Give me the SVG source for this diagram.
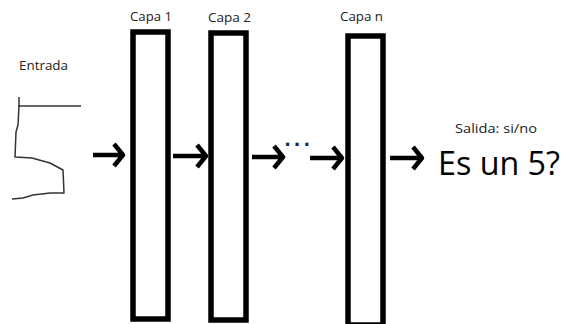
<svg xmlns="http://www.w3.org/2000/svg" width="572" height="324" viewBox="0 0 572 324">
<style>
.lbl{font-family:"Open Sans","Liberation Sans",sans-serif;font-size:13.5px;fill:#222}
.layer{fill:none;stroke:#000;stroke-width:5.5}
.arr{fill:none;stroke:#000;stroke-width:4.5;stroke-linejoin:round}
.hand{fill:none;stroke:#333;stroke-width:1.5;stroke-linejoin:round}
</style>
<rect width="572" height="324" fill="#fff"/>
<g id="entrada">
<text class="lbl" x="19" y="70" textLength="49" lengthAdjust="spacingAndGlyphs">Entrada</text>
<polyline class="hand" points="18,106 81,106"/>
<polyline class="hand" points="19,97 19,106 18,125 16,132 15,157 32,158 50,163 63,170 64,193 50,193 33,195 23,198 12,199"/>
</g>
<g id="capa1">
<text class="lbl" x="130" y="21" textLength="42" lengthAdjust="spacingAndGlyphs">Capa 1</text>
<rect class="layer" x="133" y="32" width="35" height="287"/>
</g>
<g id="capa2">
<text class="lbl" x="208" y="22" textLength="43" lengthAdjust="spacingAndGlyphs">Capa 2</text>
<rect class="layer" x="211" y="33" width="35" height="287"/>
</g>
<g id="capan">
<text class="lbl" x="340" y="21" textLength="43" lengthAdjust="spacingAndGlyphs">Capa n</text>
<rect class="layer" x="348" y="36" width="35" height="289"/>
</g>
<g id="salida">
<text class="lbl" x="455" y="133" font-size="14.5" textLength="82" lengthAdjust="spacingAndGlyphs">Salida: si/no</text>
<text x="438" y="175" font-family="'Open Sans','Liberation Sans',sans-serif" font-size="33" fill="#000" textLength="122" lengthAdjust="spacingAndGlyphs">Es un 5?</text>
</g>
<g id="connectors">
<path class="arr" d="M93,155H122M114,144L123,155L114,166"/>
<path class="arr" d="M173,156H206M197,145L206,156L197,167"/>
<path class="arr" d="M252,157H283M274,146L283,157L274,168"/>
<path class="arr" d="M310,158H342M333,147L342,158L333,169"/>
<path class="arr" d="M390,158H422M413,147L422,158L413,169"/>
<text x="284.5" y="145.5" font-family="'Liberation Sans',sans-serif" font-size="22" font-weight="bold" letter-spacing="3.5" fill="#1a2a4a">...</text>
</g>
</svg>
